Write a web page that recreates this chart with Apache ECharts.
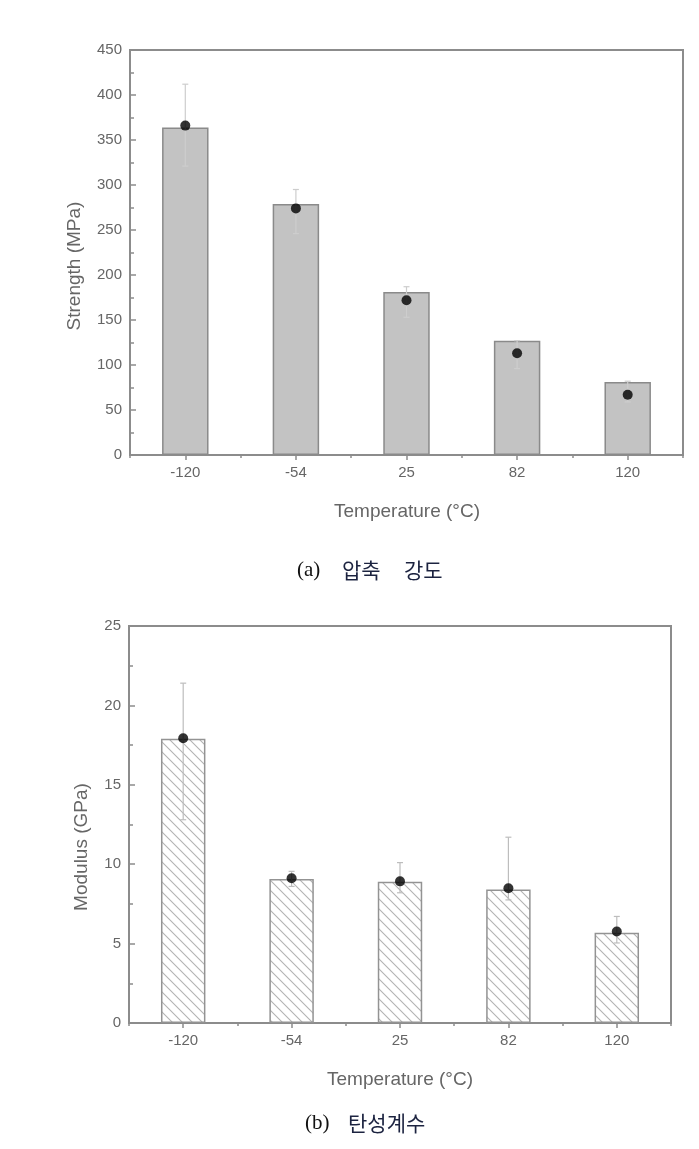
<!DOCTYPE html>
<html>
<head>
<meta charset="utf-8">
<script src="https://cdn.jsdelivr.net/npm/echarts@6/dist/echarts.min.js"></script>
<style>
html,body{margin:0;padding:0;background:#fff;}
#chart{width:699px;height:1149px;}
</style>
</head>
<body>
<div id="chart"></div>
<script>
// ---- data ----
var categories = ['-120', '-54', '25', '82', '120'];
var strengthBar = [364, 279, 181, 127, 81];
var strengthPoint = [366, 274, 172, 113, 67];
var strengthErrLow = [321, 246, 153, 96, 59];
var strengthErrHigh = [412, 295, 187, 127, 82];
var modulusBar = [17.9, 9.07, 8.9, 8.4, 5.68];
var modulusPoint = [17.93, 9.12, 8.92, 8.48, 5.76];
var modulusErrLow = [12.8, 8.6, 8.2, 7.75, 5.04];
var modulusErrHigh = [21.4, 9.55, 10.1, 11.7, 6.71];
var strengthTicks = [0, 450, 50];
var modulusTicks = [0, 25, 5];

// ---- hatch pattern ----
var T = 10;
var pc = document.createElement('canvas');
pc.width = T; pc.height = T;
var g = pc.getContext('2d');
g.fillStyle = '#ffffff'; g.fillRect(0, 0, T, T);
g.strokeStyle = '#b3b3b3'; g.lineWidth = 1.1;
g.beginPath();
g.moveTo(-1, -1); g.lineTo(T + 1, T + 1);
g.moveTo(-1, T - 1); g.lineTo(1, T + 1);
g.moveTo(T - 1, -1); g.lineTo(T + 1, 1);
g.stroke();

var FRAME = '#8c8c8c';
var TXT = '#666666';
var FONT = '"Liberation Sans", Arial, sans-serif';

function errData(lo, hi) {
  return categories.map(function (c, i) { return [i, lo[i], hi[i]]; });
}
function errRender(color) {
  return function (params, api) {
    var i = api.value(0);
    var p1 = api.coord([i, api.value(1)]);
    var p2 = api.coord([i, api.value(2)]);
    var w = 3;
    var st = { stroke: color, lineWidth: 1.2 };
    return {
      type: 'group',
      children: [
        { type: 'line', shape: { x1: p1[0], y1: p1[1], x2: p2[0], y2: p2[1] }, style: st },
        { type: 'line', shape: { x1: p1[0] - w, y1: p1[1], x2: p1[0] + w, y2: p1[1] }, style: st },
        { type: 'line', shape: { x1: p2[0] - w, y1: p2[1], x2: p2[0] + w, y2: p2[1] }, style: st }
      ]
    };
  };
}

function xMain(gi) {
  return {
    type: 'category', gridIndex: gi, data: categories,
    axisLine: { show: true, lineStyle: { color: FRAME, width: 2 } },
    axisTick: { show: true, alignWithLabel: true, inside: false, length: 5, lineStyle: { color: FRAME, width: 1.5 } },
    axisLabel: { color: TXT, fontSize: 15, fontFamily: FONT, margin: 10 },
    splitLine: { show: false }
  };
}
function xMinor(gi) {
  return {
    type: 'category', gridIndex: gi, data: categories, position: 'bottom',
    axisLine: { show: false },
    axisTick: { show: true, alignWithLabel: false, inside: false, length: 3, lineStyle: { color: FRAME, width: 1.5 } },
    axisLabel: { show: false },
    splitLine: { show: false }
  };
}
function yMain(gi, t) {
  return {
    type: 'value', gridIndex: gi, min: t[0], max: t[1], interval: t[2],
    axisLine: { show: true, lineStyle: { color: FRAME, width: 2 } },
    axisTick: { show: true, inside: true, length: 6, lineStyle: { color: FRAME, width: 1.5 } },
    minorTick: { show: true, splitNumber: 2, length: 4, lineStyle: { color: FRAME, width: 1.5 } },
    axisLabel: { color: TXT, fontSize: 15, fontFamily: FONT, margin: 8 },
    splitLine: { show: false }
  };
}

var chart = echarts.init(document.getElementById('chart'), null, { renderer: 'canvas' });
chart.setOption({
  backgroundColor: '#ffffff',
  animation: false,
  grid: [
    { left: 130, top: 50, width: 553, height: 405, show: true, borderColor: FRAME, borderWidth: 2, backgroundColor: 'transparent' },
    { left: 129, top: 626, width: 542, height: 397, show: true, borderColor: FRAME, borderWidth: 2, backgroundColor: 'transparent' }
  ],
  xAxis: [xMain(0), xMain(1), xMinor(0), xMinor(1)],
  yAxis: [yMain(0, strengthTicks), yMain(1, modulusTicks)],
  series: [
    {
      type: 'bar', xAxisIndex: 0, yAxisIndex: 0, data: strengthBar, barWidth: '42%',
      itemStyle: { color: '#c3c3c3', borderColor: '#8a8a8a', borderWidth: 1.5 }
    },
    {
      type: 'custom', xAxisIndex: 0, yAxisIndex: 0, data: errData(strengthErrLow, strengthErrHigh),
      renderItem: errRender('#cdcdcd'), z: 3, encode: { x: 0, y: [1, 2] }
    },
    {
      type: 'scatter', xAxisIndex: 0, yAxisIndex: 0, data: strengthPoint, symbol: 'circle', symbolSize: 10,
      itemStyle: { color: '#000' }, z: 4
    },
    {
      type: 'bar', xAxisIndex: 1, yAxisIndex: 1, data: modulusBar, barWidth: '41%',
      itemStyle: { color: { image: pc, repeat: 'repeat' }, borderColor: '#939393', borderWidth: 1.5 }
    },
    {
      type: 'custom', xAxisIndex: 1, yAxisIndex: 1, data: errData(modulusErrLow, modulusErrHigh),
      renderItem: errRender('#bdbdbd'), z: 3, encode: { x: 0, y: [1, 2] }
    },
    {
      type: 'scatter', xAxisIndex: 1, yAxisIndex: 1, data: modulusPoint, symbol: 'circle', symbolSize: 10,
      itemStyle: { color: '#000' }, z: 4
    }
  ],
  graphic: [
    { type: 'text', x: 75, y: 266, rotation: Math.PI / 2, style: { text: 'Strength (MPa)', font: '19px ' + FONT, fill: TXT, align: 'center', verticalAlign: 'middle' } },
    { type: 'text', x: 407, y: 512, style: { text: 'Temperature (°C)', font: '19px ' + FONT, fill: TXT, align: 'center', verticalAlign: 'middle' } },
    { type: 'text', x: 297, y: 570, style: { text: '(a)', font: '21px "Liberation Serif", "DejaVu Serif", serif', fill: '#111', align: 'left', verticalAlign: 'middle' } },
    { type: 'text', x: 342, y: 570, style: { text: '압축', font: '21px "Noto Sans CJK KR", sans-serif', fill: '#1c2340', align: 'left', verticalAlign: 'middle' } },
    { type: 'text', x: 404, y: 570, style: { text: '강도', font: '21px "Noto Sans CJK KR", sans-serif', fill: '#1c2340', align: 'left', verticalAlign: 'middle' } },
    { type: 'text', x: 82, y: 847, rotation: Math.PI / 2, style: { text: 'Modulus (GPa)', font: '19px ' + FONT, fill: TXT, align: 'center', verticalAlign: 'middle' } },
    { type: 'text', x: 400, y: 1080, style: { text: 'Temperature (°C)', font: '19px ' + FONT, fill: TXT, align: 'center', verticalAlign: 'middle' } },
    { type: 'text', x: 305, y: 1123, style: { text: '(b)', font: '21px "Liberation Serif", "DejaVu Serif", serif', fill: '#111', align: 'left', verticalAlign: 'middle' } },
    { type: 'text', x: 348, y: 1123, style: { text: '탄성계수', font: '21px "Noto Sans CJK KR", sans-serif', fill: '#1c2340', align: 'left', verticalAlign: 'middle' } }
  ]
});
</script>
</body>
</html>
